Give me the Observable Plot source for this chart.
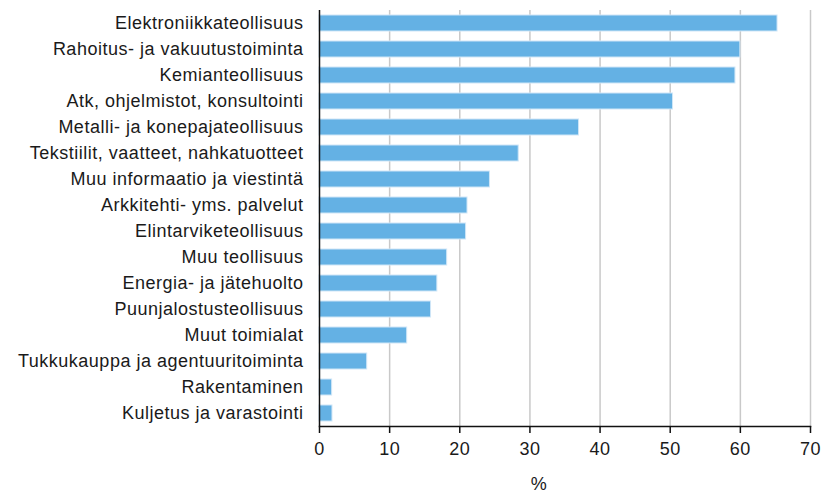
<!DOCTYPE html>
<html>
<head>
<meta charset="utf-8">
<script src="https://cdn.jsdelivr.net/npm/d3@7"></script>
<script src="https://cdn.jsdelivr.net/npm/@observablehq/plot@0.6"></script>
<style>
  html, body { margin: 0; padding: 0; background: #fff; }
  #chart svg { font-family: "Liberation Sans", Arial, sans-serif; letter-spacing: 0.5px; }
</style>
</head>
<body>
<div id="chart"></div>
<script>
const categories = [
  "Elektroniikkateollisuus",
  "Rahoitus- ja vakuutustoiminta",
  "Kemianteollisuus",
  "Atk, ohjelmistot, konsultointi",
  "Metalli- ja konepajateollisuus",
  "Tekstiilit, vaatteet, nahkatuotteet",
  "Muu informaatio ja viestintä",
  "Arkkitehti- yms. palvelut",
  "Elintarviketeollisuus",
  "Muu teollisuus",
  "Energia- ja jätehuolto",
  "Puunjalostusteollisuus",
  "Muut toimialat",
  "Tukkukauppa ja agentuuritoiminta",
  "Rakentaminen",
  "Kuljetus ja varastointi"
];
const values = [65.3, 60.0, 59.3, 50.4, 37.0, 28.4, 24.3, 21.1, 20.9, 18.2, 16.8, 15.9, 12.5, 6.8, 1.8, 1.85];
const xTicks = [0, 10, 20, 30, 40, 50, 60, 70];
const xLabel = "%";

const data = categories.map((c, i) => ({category: c, value: values[i]}));

const chart = Plot.plot({
  width: 826,
  height: 496,
  marginLeft: 319,
  marginRight: 16,
  marginTop: 10,
  marginBottom: 70,
  style: {fontSize: "18px", color: "#1a1a1a", background: "#fff"},
  x: {domain: [0, 70], ticks: xTicks},
  y: {domain: categories, paddingInner: 0.38, paddingOuter: 0.19},
  marks: [
    Plot.gridX(xTicks.slice(1), {stroke: "#c9c9c9", strokeOpacity: 1, strokeWidth: 1.5}),
    Plot.barX(data, {x: "value", y: "category", fill: "#64b1e4", stroke: "#cfe6f7", strokeWidth: 1}),
    Plot.ruleX([0], {stroke: "#111", strokeWidth: 1.5}),
    Plot.frame({anchor: "bottom", stroke: "#111", strokeWidth: 1.5}),
    Plot.axisX(xTicks, {tickSize: 7, tickPadding: 9, stroke: "#111", strokeWidth: 1.5, fontSize: 18, label: null}),
    Plot.axisY({tickSize: 0, tickPadding: 16, fontSize: 18, label: null}),
    Plot.text([xLabel], {text: d => d, frameAnchor: "bottom", dx: -26, dy: 58, lineAnchor: "middle", fontSize: 18, fill: "#1a1a1a"})
  ]
});
document.getElementById("chart").appendChild(chart);
</script>
</body>
</html>
